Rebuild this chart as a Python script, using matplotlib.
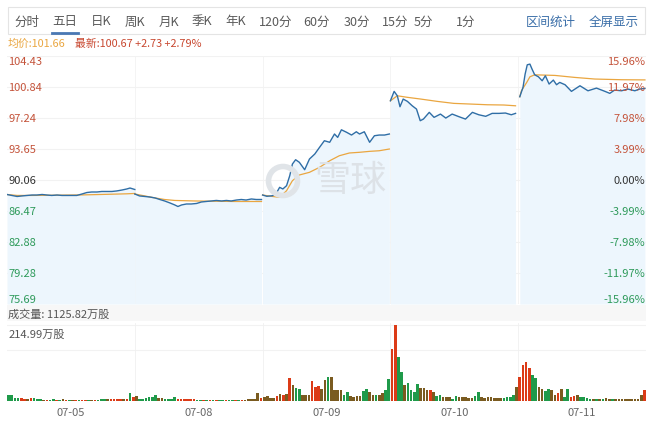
import numpy as np
import matplotlib
matplotlib.use("Agg")
import matplotlib.pyplot as plt
from matplotlib.patches import Rectangle, Circle
from matplotlib.transforms import blended_transform_factory

plt.rcParams['font.family'] = ['Noto Sans CJK SC', 'DejaVu Sans']

# ---- data ----
days = ["07-05", "07-08", "07-09", "07-10", "07-11"]
prev_close = 90.06
price_ticks = [104.43, 100.84, 97.24, 93.65, 90.06, 86.47, 82.88, 79.28, 75.69]
pct_labels = ["15.96%", "11.97%", "7.98%", "3.99%", "0.00%",
              "-3.99%", "-7.98%", "-11.97%", "-15.96%"]

# minutes since open (0-240) and price, one list per day
d1_min = [0, 9, 19, 28, 38, 47, 56, 66, 75, 84, 94, 103, 113, 122, 131, 141, 150,
          159, 169, 178, 188, 197, 206, 216, 225, 231, 240]
d1_price = [88.38, 88.27, 88.15, 88.21, 88.27, 88.32, 88.32, 88.38, 88.32, 88.27,
            88.32, 88.27, 88.27, 88.27, 88.27, 88.44, 88.61, 88.67, 88.67, 88.73,
            88.73, 88.73, 88.79, 88.90, 89.02, 89.13, 88.96]
d1_avg_min = [0, 19, 47, 94, 141, 188, 225, 240]
d1_avg = [88.38, 88.27, 88.27, 88.30, 88.33, 88.40, 88.46, 88.50]

d2_min = [0, 9, 19, 28, 38, 47, 56, 66, 75, 81, 88, 97, 106, 116, 125, 134, 144,
          153, 163, 172, 181, 191, 200, 209, 219, 228, 238]
d2_price = [88.44, 88.21, 88.15, 88.09, 87.98, 87.80, 87.63, 87.40, 87.17, 86.99,
            87.17, 87.28, 87.28, 87.34, 87.51, 87.57, 87.63, 87.69, 87.63, 87.69,
            87.63, 87.74, 87.80, 87.74, 87.86, 87.80, 87.80]
d2_avg_min = [0, 19, 38, 56, 75, 113, 150, 188, 238]
d2_avg = [88.44, 88.21, 87.98, 87.80, 87.69, 87.63, 87.60, 87.57, 87.57]

d3_min = [0, 8, 19, 26, 32, 38, 45, 51, 56, 62, 69, 79, 88, 98, 107, 116, 126, 135,
          141, 148, 158, 167, 176, 182, 191, 201, 210, 219, 229, 238]
d3_price = [88.32, 88.17, 88.24, 88.55, 89.21, 89.02, 89.40, 90.56, 91.91, 92.41,
            92.11, 91.25, 92.49, 93.07, 93.85, 94.61, 94.43, 95.39, 95.00, 95.88,
            95.58, 95.27, 95.65, 95.39, 95.65, 94.43, 95.19, 95.27, 95.27, 95.39]
d3_avg_min = [0, 19, 32, 45, 56, 69, 88, 107, 126, 144, 163, 182, 201, 219, 238]
d3_avg = [88.32, 88.15, 88.05, 88.82, 89.98, 90.64, 90.95, 91.53, 92.29, 92.87,
          93.19, 93.27, 93.38, 93.45, 93.65]

d4_min = [0, 7, 13, 18, 24, 32, 41, 49, 56, 62, 73, 82, 94, 104, 116, 129, 141,
          154, 166, 179, 191, 204, 216, 227, 235]
d4_price = [99.24, 100.33, 99.82, 98.55, 99.44, 99.17, 98.66, 98.28, 96.93, 97.12,
            97.90, 97.32, 97.70, 97.24, 97.70, 97.39, 97.12, 97.90, 97.62, 97.44,
            97.78, 97.78, 97.82, 97.62, 97.78]
d4_avg_min = [0, 13, 32, 57, 88, 119, 151, 182, 213, 235]
d4_avg = [99.24, 99.82, 99.64, 99.44, 99.17, 98.94, 98.86, 98.78, 98.75, 98.66]

d5_min = [3, 9, 13, 17, 22, 26, 31, 38, 45, 51, 58, 66, 72, 78, 88, 100, 116, 131,
          147, 163, 172, 181, 194, 206, 219, 228, 238]
d5_price = [99.71, 100.79, 102.33, 103.41, 103.49, 102.91, 102.25, 102.02, 101.56,
            102.14, 101.18, 101.64, 101.10, 101.37, 101.10, 100.33, 100.98, 100.40,
            100.71, 100.33, 100.10, 100.48, 100.40, 100.60, 100.40, 100.60, 100.67]
d5_avg_min = [3, 6, 16, 22, 31, 69, 106, 144, 194, 238]
d5_avg = [99.71, 100.40, 101.37, 102.02, 102.25, 102.18, 101.95, 101.76, 101.68, 101.66]

# volume, 40 bars a day (万股); colour code r=up, g=down, b=mixed
vol_d1 = [16, 18, 9, 9, 8, 7, 7, 8, 8, 7, 7, 4, 4, 4, 6, 4, 4, 5, 3, 3,
          3, 3, 3, 3, 4, 4, 4, 4, 4, 6, 6, 6, 5, 5, 7, 7, 7, 7, 23, 11]
vol_d2 = [14, 7, 7, 9, 12, 12, 18, 8, 8, 7, 7, 7, 11, 7, 5, 5, 5, 5, 5, 4,
          3, 3, 3, 3, 3, 3, 3, 3, 3, 3, 3, 3, 3, 3, 3, 5, 5, 5, 23, 8]
vol_d3 = [11, 14, 8, 8, 14, 19, 16, 21, 65, 44, 37, 35, 18, 18, 18, 56, 40, 43, 35, 59,
          68, 68, 30, 30, 30, 18, 25, 14, 11, 14, 14, 27, 35, 25, 18, 16, 18, 23, 30, 61]
vol_d4 = [148, 215, 125, 82, 46, 52, 30, 25, 48, 38, 37, 30, 30, 25, 14, 16, 11, 11, 10, 7,
          14, 11, 11, 10, 8, 9, 13, 25, 11, 8, 10, 10, 9, 8, 8, 9, 12, 12, 18, 40]
vol_d5 = [68, 101, 110, 92, 73, 65, 40, 35, 27, 33, 30, 18, 23, 33, 11, 35, 11, 14, 16, 11,
          11, 8, 7, 5, 6, 7, 7, 8, 7, 7, 6, 6, 6, 6, 6, 7, 7, 7, 16, 32]
dir_d1 = "ggggrrbrgg" "gbrggrgbrg" "brgrrgbrgg" "gbrrrrbrgr"
dir_d2 = "bggggggbbg" "gggrrrrrrg" "grgrgrggrg" "grgrbbbbbr"
dir_d3 = "bbbbrbrbrb" "ggbbbrrrbb" "gbbbbggbbb" "bggbbgbbgg"
dir_d4 = "rrggbggggb" "bbrbggbbbg" "gbbbbbggbb" "bbbbbggggb"
dir_d5 = "rrrrggbbgg" "bbrbggrrbg" "gggbgbgbbg" "bbbbbbbbbr"
vol_max = 214.99

tabs = ["分时", "五日", "日K", "周K", "月K", "季K", "年K", "120分", "60分",
        "30分", "15分", "5分", "1分"]

# ---- styling ----
W, H = 658, 431
BLUE = "#2f6ea6"
ORANGE = "#eaa640"
FILL = "#edf6fd"
UP = "#c4533a"
DOWN = "#2e9a5a"
bar_cols = {"r": "#dc3b17", "g": "#1f9a4a", "b": "#7a5b20"}


def fx(px):
    return px / W


def fy(py):
    return 1 - py / H


fig = plt.figure(figsize=(W / 100, H / 100), dpi=100)

# tab bar
fig.add_artist(Rectangle((fx(8), fy(35)), fx(637), 27 / H, transform=fig.transFigure,
                         fill=False, ec="#e4e4e4", lw=0.8))
tab_x = [27, 65, 101, 135, 169, 202, 236, 276, 316, 357, 395, 423, 466]
for t, x in zip(tabs, tab_x):
    fig.text(fx(x), fy(22), t, ha="center", va="center", fontsize=9, color="#5a5a5a")
fig.add_artist(plt.Line2D([fx(52), fx(78)], [fy(34), fy(34)], color="#4a78b3", lw=2))
fig.text(fx(551), fy(22), "区间统计", ha="center", va="center", fontsize=9, color="#3a6ea8")
fig.text(fx(614), fy(22), "全屏显示", ha="center", va="center", fontsize=9, color="#3a6ea8")

fig.text(fx(8), fy(44), "均价:101.66", ha="left", va="center", fontsize=7.8, color=ORANGE)
fig.text(fx(75), fy(44), "最新:100.67 +2.73 +2.79%", ha="left", va="center",
         fontsize=7.8, color="#c8472f")

# price panel
ax = fig.add_axes([fx(7), fy(305), 639 / W, 248 / H])
ax.set_xlim(0, 240 * len(days))
ax.set_ylim(price_ticks[-1], price_ticks[0])
for s in ax.spines.values():
    s.set_visible(False)
ax.set_xticks([])
ax.set_yticks([])
for v in price_ticks:
    ax.axhline(v, color="#f2f2f2", lw=0.8, zorder=0)
for d in range(1, len(days)):
    ax.axvline(d * 240, color="#f2f2f2", lw=0.6, zorder=0)

day_data = [(d1_min, d1_price, d1_avg_min, d1_avg),
            (d2_min, d2_price, d2_avg_min, d2_avg),
            (d3_min, d3_price, d3_avg_min, d3_avg),
            (d4_min, d4_price, d4_avg_min, d4_avg),
            (d5_min, d5_price, d5_avg_min, d5_avg)]
for d, (tm, pr, am, av) in enumerate(day_data):
    x = np.array(tm) + d * 240
    ax.fill_between(x, pr, price_ticks[-1], color=FILL, lw=0, zorder=1)
    ax.plot(np.array(am) + d * 240, av, color=ORANGE, lw=0.9, zorder=2)
    ax.plot(x, pr, color=BLUE, lw=1.0, zorder=3)

# watermark
ax.text(0.537, 0.5, "雪球", transform=ax.transAxes, ha="center",
        va="center", fontsize=26, color="#dde2e7", zorder=4)
fig.add_artist(Circle((2.83, fy(182) * H / 100), 0.145, transform=fig.dpi_scale_trans,
                      fill=False, ec="#e0e4e8", lw=4))

trans = blended_transform_factory(ax.transAxes, ax.transData)
for i, (v, p) in enumerate(zip(price_ticks, pct_labels)):
    col = UP if v > prev_close else ("#333333" if v == prev_close else DOWN)
    va = "top" if i == 0 else ("bottom" if i == len(price_ticks) - 1 else "center")
    ax.text(0.002, v, f"{v:.2f}", transform=trans, ha="left", va=va, fontsize=8,
            color=col, zorder=5)
    ax.text(0.9985, v, p, transform=trans, ha="right", va=va, fontsize=8,
            color=col, zorder=5)

# volume header band
fig.add_artist(Rectangle((fx(7), fy(322)), 639 / W, 16 / H, transform=fig.transFigure,
                         color="#f7f7f7", lw=0, zorder=0))
fig.text(fx(8), fy(315), "成交量: 1125.82万股", ha="left", va="center", fontsize=8,
         color="#555555")

# volume panel
vax = fig.add_axes([fx(7), fy(402), 639 / W, 78 / H])
vax.set_xlim(0, 40 * len(days))
vax.set_ylim(0, vol_max * 78 / 76)
for s in vax.spines.values():
    s.set_visible(False)
vax.set_yticks([])
for v in [vol_max, vol_max * 2 / 3]:
    vax.axhline(v, color="#f2f2f2", lw=0.8, zorder=0)
for d in range(1, len(days)):
    vax.axvline(d * 40, color="#f0f0f0", lw=0.6, zorder=0)

vols = [vol_d1, vol_d2, vol_d3, vol_d4, vol_d5]
dirs = [dir_d1, dir_d2, dir_d3, dir_d4, dir_d5]
for d, (vv, dd) in enumerate(zip(vols, dirs)):
    x = np.arange(len(vv)) + d * 40 + 0.5
    vax.bar(x, vv, width=0.82, color=[bar_cols[c] for c in dd], lw=0, zorder=2)

vax.text(0.002, 0.86, "214.99万股", transform=vax.transAxes, ha="left", va="center",
         fontsize=8, color="#555555")
vax.set_xticks(np.arange(len(days)) * 40 + 20)
vax.set_xticklabels(days, fontsize=8, color="#666666")
vax.tick_params(axis="x", length=0, pad=4)

fig.savefig("out.png", dpi=100)
